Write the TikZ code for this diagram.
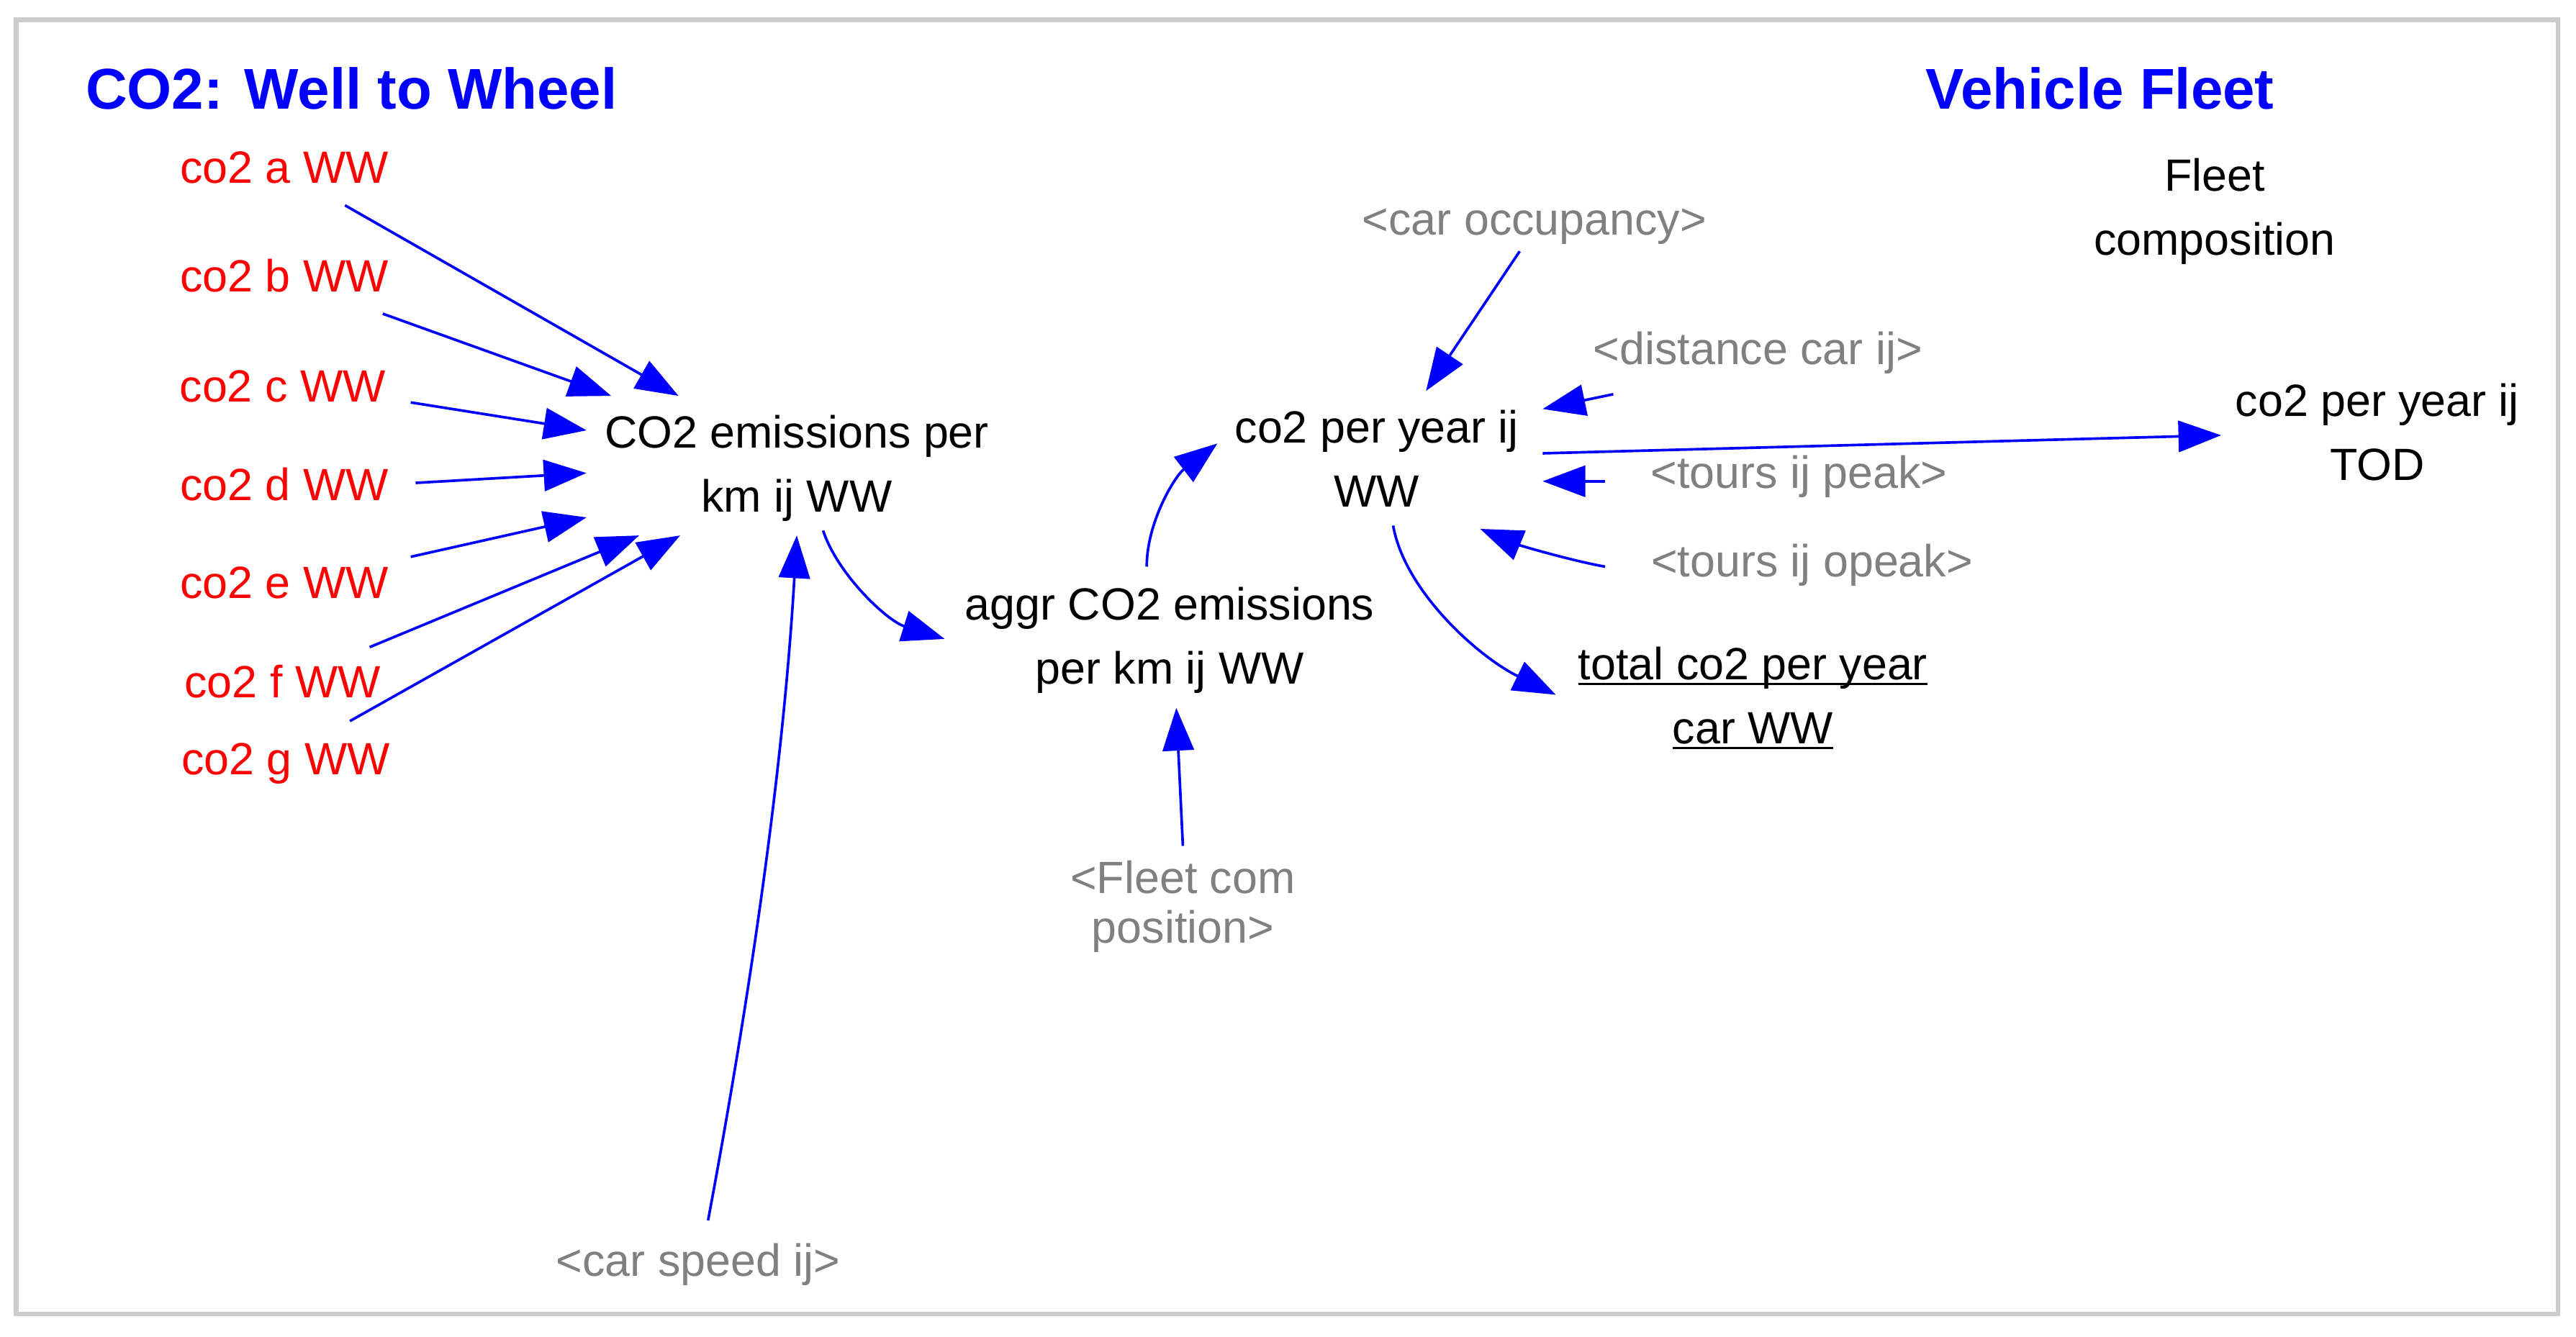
\documentclass[tikz,border=0pt]{standalone}
\usepackage{fontspec}
\setmainfont{Liberation Sans}
\usetikzlibrary{arrows.meta}
\definecolor{vblue}{RGB}{0,0,255}
\definecolor{vred}{RGB}{255,0,0}
\definecolor{vgray}{RGB}{128,128,128}
\definecolor{framegray}{RGB}{204,204,204}
\newcommand\myul[1]{\setbox0\hbox{#1}\rlap{\rule[-3.5pt]{\wd0}{1.6pt}}\box0}
\begin{document}
\begin{tikzpicture}[x=1pt,y=-1pt,
  txt/.style={font=\fontsize{27.5}{39}\selectfont, align=center, inner sep=0pt},
  src/.style={txt, text=vred},
  shadowvar/.style={txt, text=vgray},
  ttl/.style={font=\fontsize{35}{42}\selectfont\bfseries, text=vblue, inner sep=0pt, anchor=west},
  link/.style={draw=vblue, line width=1.6pt, -{Triangle[length=26pt,width=19pt]}},
]
\useasboundingbox (0,0) rectangle (1568,814);
\draw[framegray, line width=3pt] (10,12) rectangle (1557,800);

\node[ttl] (t1) at (52,54) {CO2: Well to Wheel};
\node[ttl] (t2) at (1172,54) {Vehicle Fleet};

\node[src] (a) at (173,102) {co2 a WW};
\node[src] (b) at (173,168) {co2 b WW};
\node[src] (c) at (172,235) {co2 c WW};
\node[src] (d) at (173,295) {co2 d WW};
\node[src] (e) at (173,355) {co2 e WW};
\node[src] (f) at (172,415) {co2 f WW};
\node[src] (g) at (174,465) {co2 g WW};

\node[txt] (em) at (485,285) {CO2 emissions per\\km ij WW};
\node[txt] (agg) at (712,390) {aggr CO2 emissions\\per km ij WW};
\node[txt] (py) at (838,279) {co2 per year ij\\WW};
\node[shadowvar] (occ) at (934,138) {<car occupancy>};
\node[shadowvar] (dist) at (1070,215) {<distance car ij>};
\node[shadowvar] (peak) at (1095,290) {<tours ij peak>};
\node[shadowvar] (opeak) at (1103,344) {<tours ij opeak>};
\node[txt] (tot) at (1067,425) {\myul{total co2 per year}\\\myul{car WW}};
\node[txt] (tod) at (1447,263) {co2 per year ij\\TOD};
\node[txt] (fleet) at (1348,128.5) {Fleet\\composition};
\node[shadowvar, font=\fontsize{27.5}{30}\selectfont] (fcp) at (720,552) {<Fleet com\\position>};
\node[shadowvar] (spd) at (425,770) {<car speed ij>};

\draw[link] ([shift={(37,23)}]a.center) -- ([shift={(-72,-44)}]em.center);
\draw[link] ([shift={(60,23)}]b.center) -- ([shift={(-113,-44)}]em.center);
\draw[link] ([shift={(78,10)}]c.center) -- ([shift={(-128,-23)}]em.center);
\draw[link] ([shift={(80,-1)}]d.center) -- ([shift={(-128,3)}]em.center);
\draw[link] ([shift={(77,-16)}]e.center) -- ([shift={(-128,30)}]em.center);
\draw[link] ([shift={(53,-21)}]f.center) -- ([shift={(-96,41)}]em.center);
\draw[link] ([shift={(39,-26)}]g.center) -- ([shift={(-71,41)}]em.center);

\draw[link] ([shift={(6,-27)}]spd.center) .. controls ([shift={(32,-166)}]spd.center) and ([shift={(-8,180)}]em.center) .. ([shift={(0,41)}]em.center);
\draw[link] ([shift={(16,38)}]em.center) .. controls ([shift={(25,65)}]em.center) and ([shift={(-172,-12)}]agg.center) .. ([shift={(-137,-1)}]agg.center);
\draw[link] ([shift={(-14,-45)}]agg.center) .. controls ([shift={(-14,-72)}]agg.center) and ([shift={(-123,11)}]py.center) .. ([shift={(-97,-9)}]py.center);
\draw[link] ([shift={(0,-37)}]fcp.center) -- ([shift={(4,41)}]agg.center);
\draw[link] ([shift={(-9,15)}]occ.center) -- ([shift={(30,-41)}]py.center);
\draw[link] ([shift={(-88,25)}]dist.center) -- ([shift={(101,-30)}]py.center);
\draw[link] ([shift={(-118,3)}]peak.center) -- ([shift={(101,14)}]py.center);
\draw[link] ([shift={(-126,1)}]opeak.center) .. controls ([shift={(-148,-3)}]opeak.center) and ([shift={(87,53)}]py.center) .. ([shift={(63,43)}]py.center);
\draw[link] ([shift={(10,41)}]py.center) .. controls ([shift={(17,81)}]py.center) and ([shift={(-167,-25)}]tot.center) .. ([shift={(-120,-2)}]tot.center);
\draw[link] ([shift={(101,-3)}]py.center) -- ([shift={(-95,2)}]tod.center);
\end{tikzpicture}
\end{document}
